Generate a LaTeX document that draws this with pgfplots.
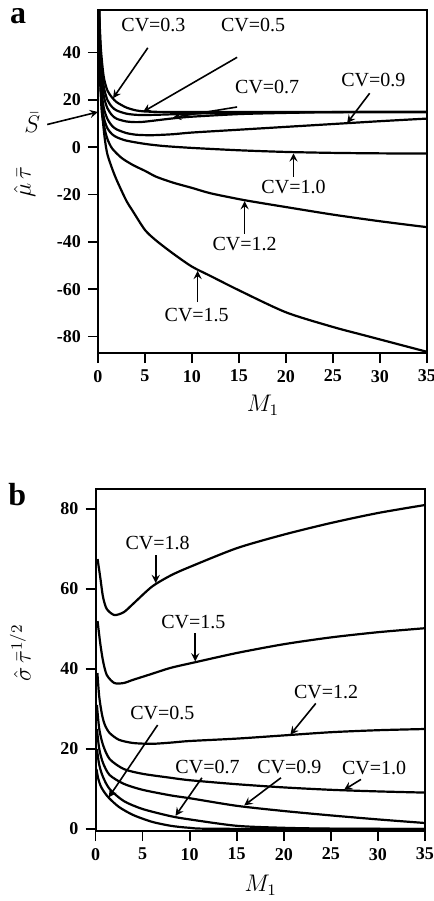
\documentclass[border=0pt]{standalone}
\usepackage{graphicx}
\usepackage{pgfplots}
\pgfplotsset{compat=1.18}
\usepackage{fontspec}
\setmainfont{Liberation Serif}
\pgfplotsset{
  myax/.style={
    scale only axis, clip=false,
    axis lines=box, tick pos=left, tick align=outside,
    major tick length=5pt, axis line style={line width=1pt},
    tick style={black,line width=0.9pt},
    tick label style={font=\bfseries\fontsize{9}{10}\selectfont},
    /pgf/number format/assume math mode=true,
    xmin=0, xmax=35, xtick={0,5,...,35},
  },
  cv/.style={black,line width=1.1pt,smooth,tension=0.45,no markers},
  arrw/.style={black,line width=0.8pt,-stealth,no markers},
  labs/.style={only marks, mark=*, mark size=0pt, mark options={draw=none,fill=none},
    point meta=explicit symbolic, nodes near coords,
    every node near coord/.append style={font=\fontsize{10}{11}\selectfont, inner sep=0pt, anchor=center, black}},
  bigl/.style={labs, every node near coord/.append style={font=\fontsize{12}{12}\selectfont}},
  lett/.style={labs, every node near coord/.append style={font=\bfseries\fontsize{16}{16}\selectfont}},
}
\begin{document}
\begin{tikzpicture}
\useasboundingbox (0pt,0pt) rectangle (217pt,-450.5pt);
% ---------------- panel a
\begin{axis}[myax,at={(49pt,-176.5pt)},anchor=south west,width=164.5pt,height=171.5pt,
  ymin=-87, ymax=58, ytick={-80,-60,...,40}]
\addplot[cv] coordinates {(0.12,58)(0.3,42)(0.6,30)(1,24)(1.5,21)(2,19)(3,16.8)(4,15.6)(5,15.1)(7,14.9)(10,14.9)(20,14.9)(35,14.9)};
\addplot[cv] coordinates {(0.12,58)(0.3,38)(0.6,26)(1,20)(1.5,17)(2,15.5)(3,14.2)(4,13.7)(5,13.6)(7,13.8)(10,14.2)(15,14.6)(20,14.8)(35,14.9)};
\addplot[cv] coordinates {(0.12,58)(0.3,33)(0.6,22)(1,16.5)(1.5,13.5)(2,12)(3,10.9)(4,10.6)(5,10.8)(8,12.2)(10,12.9)(15,14)(20,14.5)(25,14.8)(35,14.9)};
\addplot[cv] coordinates {(0.12,58)(0.3,28)(0.6,17)(1,12)(1.5,9)(2,7.5)(3,6)(4,5.3)(5,5.1)(6,5.1)(8,5.5)(10,6.2)(15,7.4)(20,8.6)(25,9.8)(30,11)(35,12.1)};
\addplot[cv] coordinates {(0.15,40)(0.3,24)(0.6,13)(1,8)(1.5,5.5)(2,4.2)(3,2.8)(5,1.4)(7,0.5)(10,-0.3)(15,-1.3)(20,-2)(25,-2.4)(30,-2.6)(35,-2.7)};
\addplot[cv] coordinates {(0.2,30)(0.4,15)(0.7,8)(1,3.5)(1.5,-0.5)(2.5,-4.5)(3.7,-7.5)(5,-10)(6.2,-12.5)(8,-15)(10,-17.2)(12,-19.5)(15.6,-22.4)(20,-25.3)(25,-28.5)(30,-31.3)(35,-33.8)};
\addplot[cv] coordinates {(0.3,25)(0.5,12)(0.74,3)(1,-3)(1.5,-9)(2,-14)(3,-22.5)(3.7,-27)(5,-35)(6.2,-39.5)(8,-45)(10,-50.5)(12,-54.5)(15,-60.5)(20,-69.8)(25,-76)(28.6,-79.8)(35,-86.5)};
% arrows
\addplot[arrw] coordinates {(5.3,42)(1.6,20.7)};
\addplot[arrw] coordinates {(14.8,38)(4.8,15)};
\addplot[arrw] coordinates {(14.8,17)(8,12.6)};
\addplot[arrw] coordinates {(28.9,22.8)(26.5,10.2)};
\addplot[arrw] coordinates {(20.8,-12.5)(20.8,-2.6)};
\addplot[arrw] coordinates {(15.6,-36.5)(15.6,-22.8)};
\addplot[arrw] coordinates {(10.6,-65.5)(10.6,-52.3)};
\addplot[arrw] coordinates {(-5.4,9.6)(0,14.9)};
% labels
\addplot[labs] coordinates {(5.9,51.6) [CV=0.3] (16.5,51.6) [CV=0.5] (18,25.4) [CV=0.7] (29.3,28.3) [CV=0.9] (20.8,-17) [CV=1.0] (15.6,-41) [CV=1.2] (10.5,-71) [CV=1.5]};
\addplot[bigl] coordinates {(-7.0,10.3) [$\bar{S}$] (17.55,-109) [$M_1$] (-7.8,-14.8) [\rotatebox{90}{$\hat{\mu}\,\bar{\tau}$}]};
\addplot[lett] coordinates {(-8.5,55.5) [a]};
\end{axis}
% ---------------- panel b
\begin{axis}[myax,at={(47.75pt,-415.5pt)},anchor=south west,width=164.75pt,height=171pt,
  ymin=-0.5, ymax=85, ytick={0,20,...,80}]
\addplot[cv] coordinates {(0.22,67.5)(0.5,63)(0.8,58)(1.2,55)(2,53.5)(3,54.2)(4,56.3)(6,60.6)(8,63.4)(10,65.5)(15,70.2)(20,73.6)(25,76.5)(30,79)(35,81)};
\addplot[cv] coordinates {(0.22,52)(0.5,46.5)(0.8,42)(1.2,38.5)(2,36.5)(3,36.5)(4,37.3)(6,38.8)(8,40.3)(10.6,41.7)(15,44)(20,46.2)(25,47.9)(30,49.2)(35,50.2)};
\addplot[cv] coordinates {(0.2,39)(0.4,33)(0.7,28.5)(1.0,26)(1.5,24)(2.5,22.3)(4,21.5)(6,21.3)(8,21.6)(10,22)(15,22.6)(20,23.4)(25,24.2)(30,24.7)(35,25)};
\addplot[cv] coordinates {(0.15,31)(0.4,25)(0.8,21)(1.5,17.5)(3,15)(5,13.8)(8,12.8)(10,12.2)(15,11.2)(20,10.4)(25,9.8)(30,9.4)(35,9.1)};
\addplot[cv] coordinates {(0.15,25)(0.4,20)(0.8,16.5)(1.5,13.5)(3,11.3)(5,9.8)(8,8.4)(10,7.7)(15,5.8)(20,4.5)(25,3.4)(30,2.4)(35,1.5)};
\addplot[cv] coordinates {(0.15,20)(0.4,16)(0.8,13)(1.5,10)(3,7)(5,5)(8,3.2)(10,2.4)(15,0.8)(20,0.3)(25,0.1)(35,0)};
\addplot[cv] coordinates {(0.1,15)(0.3,12.5)(0.6,10.5)(1.0,9)(1.45,7.7)(2.5,5.5)(4,3.5)(6,1.8)(8,0.8)(10,0.3)(13,0.05)(35,0)};
% arrows
\addplot[arrw] coordinates {(6.4,68.5)(6.4,61.5)};
\addplot[arrw] coordinates {(10.6,49)(10.6,41.9)};
\addplot[arrw] coordinates {(23.4,31.4)(20.7,23.6)};
\addplot[arrw] coordinates {(6.6,26)(1.4,7.9)};
\addplot[arrw] coordinates {(11.3,12.8)(8.5,3.3)};
\addplot[arrw] coordinates {(19.7,12.8)(15.8,5.9)};
\addplot[arrw] coordinates {(28.2,12.4)(26.4,9.8)};
% labels
\addplot[labs] coordinates {(6.6,71.5) [CV=1.8] (10.4,51.7) [CV=1.5] (24.5,34.3) [CV=1.2] (7.1,29) [CV=0.5] (11.9,15.6) [CV=0.7] (20.6,15.6) [CV=0.9] (29.6,15.2) [CV=1.0]};
\addplot[bigl] coordinates {(17.55,-14) [$M_1$] (-8.0,44) [\rotatebox{90}{$\hat{\sigma}\,\bar{\tau}^{1/2}$}]};
\addplot[lett] coordinates {(-8.3,83.5) [b]};
\end{axis}
\end{tikzpicture}
\end{document}
